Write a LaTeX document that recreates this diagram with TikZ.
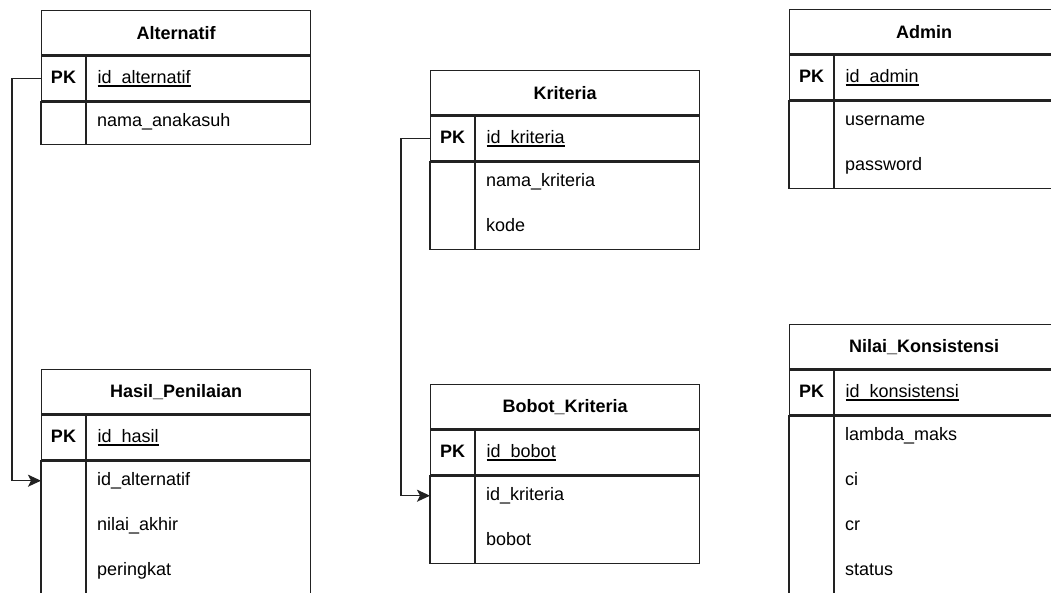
\documentclass[tikz,border=0pt]{standalone}
\usepackage{fontspec}
\setmainfont{Liberation Sans}
\usetikzlibrary{positioning,arrows.meta}
\definecolor{linegray}{HTML}{222222}
\newcommand\keyline[1]{\setbox0\hbox{#1}\rlap{\rule[-3.6pt]{\wd0}{1.3pt}}\box0}

\begin{document}
\begin{tikzpicture}[x=1pt,y=-1pt]

        \def \w {269}
        \def \titleh {44}
        \def \rowh {45}
        \def \keyw {45}

        \tikzset{
            frame/.style={draw=linegray, line width=1.4pt},
            tabtitle/.style={frame, minimum width=\w pt, minimum height=\titleh pt, inner sep=0pt, anchor=north west, font=\bfseries},
            attrrow/.style={minimum height=\rowh pt, text width=157pt, inner xsep=56pt, inner ysep=0pt, text height=13pt, text depth=4pt, align=left, anchor=north west},
            pkrow/.style={attrrow, frame},
            keycell/.style={inner sep=0pt, text height=13pt, text depth=4pt, font=\bfseries},
            link/.style={line width=1.4pt, draw=linegray, -{Stealth[length=13pt,width=12pt,inset=3pt]}}
        }

        \fontsize{18}{21}\selectfont
        \useasboundingbox (0,0) rectangle (1051,592);
        \clip (0,0) rectangle (1051,592);

        % one table: name, left, top, title, key, other columns
        \def \drawtable#1#2#3#4#5#6{
            \node[tabtitle] (#1) at (#2,#3) {#4};
            \node[pkrow] (#1-pk) at (#1.south west) {\keyline{#5}};
            \node[keycell] (#1-key) at ([xshift=22.5pt]#1-pk.west) {PK};
            \foreach \f [count=\i] in {#6} {
                \node[attrrow] (#1-a\i) at ({#2},{#3+\titleh+\rowh*\i}) {\f};
                \xdef\nrows{\i}
            }
            \draw[frame] (#1-pk.south west) rectangle (#1-a\nrows.south east);
            \draw[frame] ([xshift=\keyw pt]#1-pk.north west) -- ([xshift=\keyw pt]#1-a\nrows.south west);
        }

        % Draw tables
        \drawtable{alt}{41}{10}{Alternatif}{id\_alternatif}{nama\_anakasuh}
        \drawtable{hasil}{41}{369}{Hasil\_Penilaian}{id\_hasil}{id\_alternatif, nilai\_akhir, peringkat}
        \drawtable{krit}{430}{70}{Kriteria}{id\_kriteria}{nama\_kriteria, kode}
        \drawtable{bobot}{430}{384}{Bobot\_Kriteria}{id\_bobot}{id\_kriteria, bobot}
        \drawtable{admin}{789}{9}{Admin}{id\_admin}{username, password}
        \drawtable{nilai}{789}{324}{Nilai\_Konsistensi}{id\_konsistensi}{lambda\_maks, ci, cr, status}

        % Draw relations
        \draw[link] (alt-pk.west) -- ++(-29,0) |- (hasil-a1.west);
        \draw[link] (krit-pk.west) -- ++(-29,0) |- (bobot-a1.west);

    \end{tikzpicture}
\end{document}
